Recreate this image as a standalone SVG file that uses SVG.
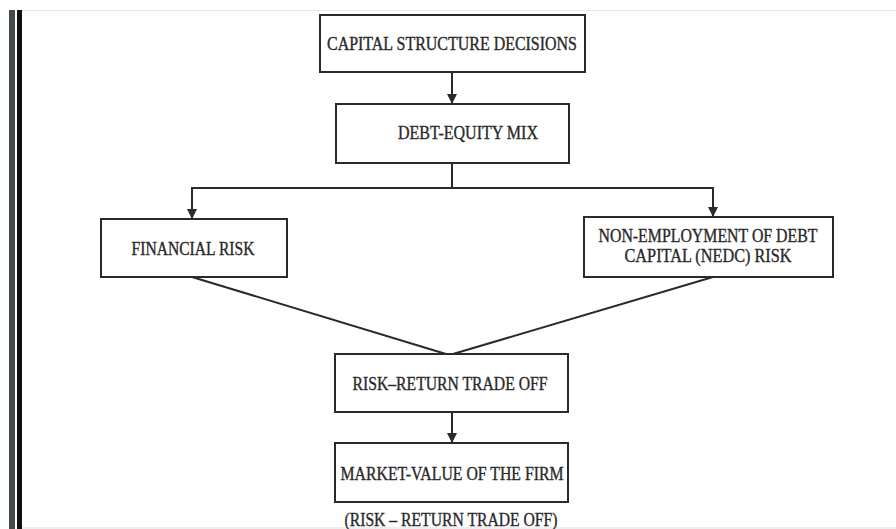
<svg xmlns="http://www.w3.org/2000/svg" width="896" height="529" viewBox="0 0 896 529">
  <style>
    .box { fill: #ffffff; stroke: #2a2a2a; stroke-width: 2; }
    .lbl { font-family: "Liberation Serif", "Times New Roman", serif; font-size: 18px; fill: #2a2a2a; stroke: #2a2a2a; stroke-width: 0.35; text-anchor: middle; }
    .wire { fill: none; stroke: #2a2a2a; stroke-width: 2; }
  </style>
  <defs>
    <marker id="arrow" viewBox="0 0 10 10" refX="10" refY="5" markerWidth="5" markerHeight="5" markerUnits="strokeWidth" orient="auto">
      <path d="M0,0 L10,5 L0,10 Z" fill="#2a2a2a"/>
    </marker>
  </defs>

  <rect width="896" height="529" fill="#ffffff"/>

  <!-- page frame -->
  <g id="frame">
    <line x1="22" y1="10.5" x2="896" y2="10.5" stroke="#e6e6e6" stroke-width="1"/>
    <rect x="9" y="10" width="6" height="519" fill="#454a4d"/>
    <rect x="17" y="10" width="5" height="519" fill="#111111"/>
    <line x1="22" y1="528" x2="896" y2="528" stroke="#dddddd" stroke-width="1"/>
  </g>

  <!-- connectors -->
  <g id="connectors">
    <line class="wire" x1="452" y1="72" x2="452" y2="104" marker-end="url(#arrow)"/>
    <polyline class="wire" points="452,163 452,188"/>
    <polyline class="wire" points="452,188 192,188 192,219" marker-end="url(#arrow)"/>
    <polyline class="wire" points="452,188 713,188 713,217" marker-end="url(#arrow)"/>
    <line class="wire" x1="192" y1="277" x2="446" y2="354"/>
    <line class="wire" x1="713" y1="277" x2="453" y2="354"/>
    <line class="wire" x1="452" y1="412" x2="452" y2="443" marker-end="url(#arrow)"/>
  </g>

  <g id="capital-structure">
    <rect class="box" x="320" y="15" width="265" height="57"/>
    <text class="lbl" x="452" y="50" textLength="250" lengthAdjust="spacingAndGlyphs">CAPITAL STRUCTURE DECISIONS</text>
  </g>

  <g id="debt-equity">
    <rect class="box" x="336" y="104" width="233" height="59"/>
    <text class="lbl" x="468" y="139" textLength="140" lengthAdjust="spacingAndGlyphs">DEBT-EQUITY MIX</text>
  </g>

  <g id="financial-risk">
    <rect class="box" x="101" y="219" width="186" height="58"/>
    <text class="lbl" x="193" y="255" textLength="123" lengthAdjust="spacingAndGlyphs">FINANCIAL RISK</text>
  </g>

  <g id="nedc-risk">
    <rect class="box" x="584" y="217" width="249" height="60"/>
    <text class="lbl" x="708" y="242" textLength="219" lengthAdjust="spacingAndGlyphs">NON-EMPLOYMENT OF DEBT</text>
    <text class="lbl" x="708" y="262" textLength="167" lengthAdjust="spacingAndGlyphs">CAPITAL (NEDC) RISK</text>
  </g>

  <g id="risk-return">
    <rect class="box" x="335" y="354" width="233" height="58"/>
    <text class="lbl" x="450" y="390" textLength="195" lengthAdjust="spacingAndGlyphs">RISK–RETURN TRADE OFF</text>
  </g>

  <g id="market-value">
    <rect class="box" x="335" y="443" width="233" height="59"/>
    <text class="lbl" x="452" y="480" textLength="223" lengthAdjust="spacingAndGlyphs">MARKET-VALUE OF THE FIRM</text>
    <text class="lbl" x="451" y="526" textLength="213" lengthAdjust="spacingAndGlyphs">(RISK – RETURN TRADE OFF)</text>
  </g>
</svg>
